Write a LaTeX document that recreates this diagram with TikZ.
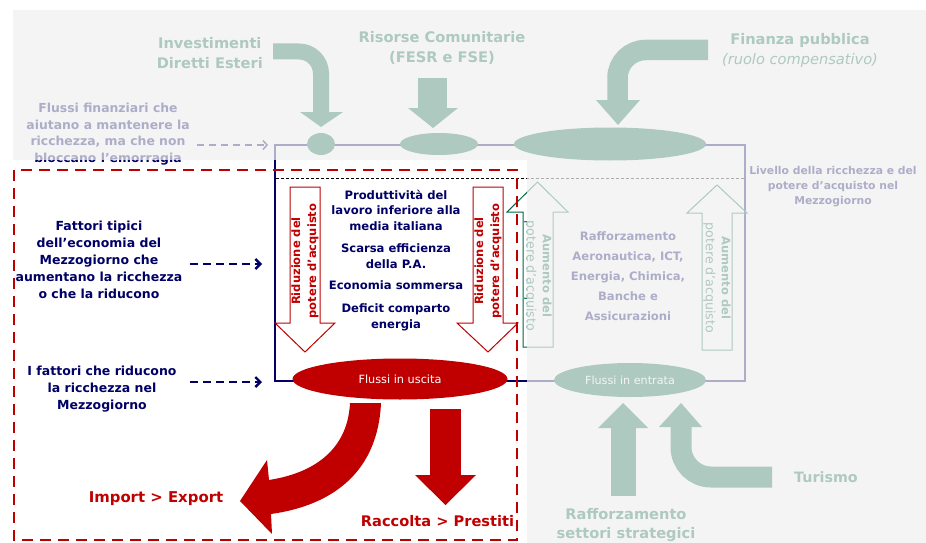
\documentclass[tikz,border=0pt]{standalone}
\usepackage{fontspec}
\setmainfont{DejaVu Sans}
\usetikzlibrary{arrows.meta,shapes.geometric}
\definecolor{navy}{RGB}{0,0,102}
\definecolor{dgreen}{RGB}{0,102,68}
\definecolor{dred}{RGB}{192,0,0}
\definecolor{veil}{RGB}{240,240,240}
\begin{document}
\begin{tikzpicture}[x=1pt,y=-1pt,
  big/.style={font=\bfseries\fontsize{14.6}{20}\selectfont, align=center, inner sep=0},
  lbl/.style={font=\bfseries\fontsize{12.5}{17}\selectfont, align=center, inner sep=0},
  midtxt/.style={font=\bfseries\fontsize{11.6}{15.5}\selectfont, align=center, inner sep=0, text=navy},
  rottxt/.style={font=\bfseries\fontsize{11.5}{16}\selectfont, align=center, inner sep=0},
  hollowred/.style={draw=dred, line width=1, fill=white},
  hollowgreen/.style={draw=dgreen, line width=1},
  blob/.style={ellipse, fill=dgreen, inner sep=0},
  dashnavy/.style={navy, line width=2.4, dash pattern=on 8pt off 5pt, -{Straight Barb[length=5pt,width=10pt]}},
]
\fill[white] (0,0) rectangle (926,543);
\useasboundingbox (0,0) rectangle (926,543);

% main frame
\draw[navy, line width=2] (275,145) -- (745,145) -- (745,381) -- (275,381) -- cycle;
\draw[black, line width=0.6, dash pattern=on 3pt off 2pt] (276,178) -- (744,178);

% top blobs
\node[blob, minimum width=28, minimum height=22] (b1) at (321,144) {};
\node[blob, minimum width=78, minimum height=22] (b2) at (439,144) {};
\node[blob, minimum width=192, minimum height=33] (b3) at (610,144) {};

% top arrows
\draw[dgreen, line width=16, rounded corners=22] (273,51.5) -| (321,113);
\fill[dgreen] (300,112) -- (343,112) -- (321,127) -- cycle;
\fill[dgreen] (418,78) rectangle (447,109);
\fill[dgreen] (408,108) -- (458,108) -- (433,128) -- cycle;
\draw[dgreen, line width=20.5, rounded corners=28] (708,50) -| (617.5,101);
\fill[dgreen] (596,100) -- (640,100) -- (618,125) -- cycle;

% top labels
\node[big, text=dgreen, anchor=east] (ide) at (263,53) {Investimenti\\Diretti Esteri};
\node[big, text=dgreen] (rc) at (442,48) {Risorse Comunitarie\\(FESR e FSE)};
\node[big, text=dgreen] (fp) at (800,50) {Finanza pubblica\\{\mdseries\itshape (ruolo compensativo)}};
\node[lbl, text=navy, font=\bfseries\fontsize{12.4}{16.7}\selectfont] (ff) at (108,134) {Flussi finanziari che\\aiutano a mantenere la\\ricchezza, ma che non\\bloccano l’emorragia};
\coordinate (ffe) at (268,145);
\draw[navy, line width=1.5, dash pattern=on 7pt off 5pt, -{Straight Barb[length=4pt,width=9pt]}] (197,145) -- (ffe);

% left labels
\node[lbl, text=navy] (ft) at (99,260) {Fattori tipici\\dell’economia del\\Mezzogiorno che\\aumentano la ricchezza\\o che la riducono};
\node[lbl, text=navy] (ifr) at (102,389) {I fattori che riducono\\la ricchezza nel\\Mezzogiorno};
\coordinate (fte) at (262,264);
\coordinate (ifre) at (262,382);
\draw[dashnavy] (190,264) -- (fte);
\draw[dashnavy] (190,382) -- (ifre);

% center texts
\node[midtxt] (t1) at (396,210) {Produttività del\\lavoro inferiore alla\\media italiana};
\node[midtxt] (t2) at (396,256) {Scarsa efficienza\\della P.A.};
\node[midtxt] (t3) at (396,285) {Economia sommersa};
\node[midtxt] (t4) at (396,317.5) {Deficit comparto\\energia};

% red hollow arrows
\draw[hollowred] (290,187) -- (320,187) -- (320,323) -- (335,323) -- (305,352) -- (275,323) -- (290,323) -- cycle;
\node[rottxt, text=dred, rotate=90] (r1) at (305,261) {Riduzione del\\potere d’acquisto};
\draw[hollowred] (473,187) -- (503,187) -- (503,323) -- (518,323) -- (488,352) -- (457,323) -- (473,323) -- cycle;
\node[rottxt, text=dred, rotate=90] (r2) at (488,261) {Riduzione del\\potere d’acquisto};

% green hollow arrows
\draw[hollowgreen] (523,347) -- (553,347) -- (553,212) -- (568,212) -- (537.5,182) -- (507,212) -- (523,212) -- cycle;
\node[rottxt, text=dgreen, rotate=-90] (g1) at (538,276) {Aumento del\\{\mdseries\fontsize{12.6}{16}\selectfont potere d’acquisto}};
\draw[hollowgreen] (702,350) -- (732,350) -- (732,213) -- (747,213) -- (717,185) -- (687,213) -- (702,213) -- cycle;
\node[rottxt, text=dgreen, rotate=-90] (g2) at (717,278) {Aumento del\\{\mdseries\fontsize{12.6}{16}\selectfont potere d’acquisto}};

% right texts
\node[lbl, text=navy, font=\bfseries\fontsize{10.8}{15}\selectfont] (liv) at (833,187) {Livello della ricchezza e del\\potere d’acquisto nel\\Mezzogiorno};
\node[lbl, text=navy, font=\bfseries\fontsize{11.6}{20}\selectfont] (raf) at (628,276) {Rafforzamento\\Aeronautica, ICT,\\Energia, Chimica,\\Banche e\\Assicurazioni};

% flow ellipses
\node[ellipse, fill=dred, minimum width=215, minimum height=41, inner sep=0, text=white, font=\fontsize{11.3}{13}\selectfont] (out) at (400,379) {Flussi in uscita};
\node[ellipse, fill=dgreen, minimum width=152, minimum height=34, inner sep=0, text=white, font=\fontsize{11.2}{13}\selectfont] (in) at (630,380) {Flussi in entrata};

% red outflow arrows
\fill[dred] (350,403) .. controls (348,445) and (320,472) .. (269,480) -- (267,460) -- (240,501) -- (272,534) -- (271,514) .. controls (335,505) and (378,470) .. (381,403) -- cycle;
\fill[dred] (430,409) rectangle (461,476);
\fill[dred] (415,475) -- (476,475) -- (445.5,505) -- cycle;
\node[big, text=dred, font=\bfseries\fontsize{14.9}{18}\selectfont] (imp) at (156,499) {Import > Export};
\node[big, text=dred, font=\bfseries\fontsize{14.6}{18}\selectfont] (rac) at (437.5,521) {Raccolta > Prestiti};

% green inflow arrows
\fill[dgreen] (611,427) rectangle (636,496);
\fill[dgreen] (598,428) -- (648,428) -- (623,403) -- cycle;
\draw[dgreen, line width=21, rounded corners=30] (772,477) -| (681,426);
\fill[dgreen] (659,427) -- (702,427) -- (681,403) -- cycle;
\node[big, text=dgreen, font=\bfseries\fontsize{14.3}{18}\selectfont] (tur) at (826,477) {Turismo};
\node[big, text=dgreen, font=\bfseries\fontsize{14.6}{19}\selectfont] (rss) at (626,525) {Rafforzamento\\settori strategici};

% red dashed focus box
\draw[dred, line width=2.6, dash pattern=on 11pt off 7pt] (14,170) rectangle (517,540);

% dimming veils
\fill[veil, opacity=0.72] (13,10) rectangle (926,160);
\fill[veil, opacity=0.72] (527,160) rectangle (926,543);
\end{tikzpicture}
\end{document}
